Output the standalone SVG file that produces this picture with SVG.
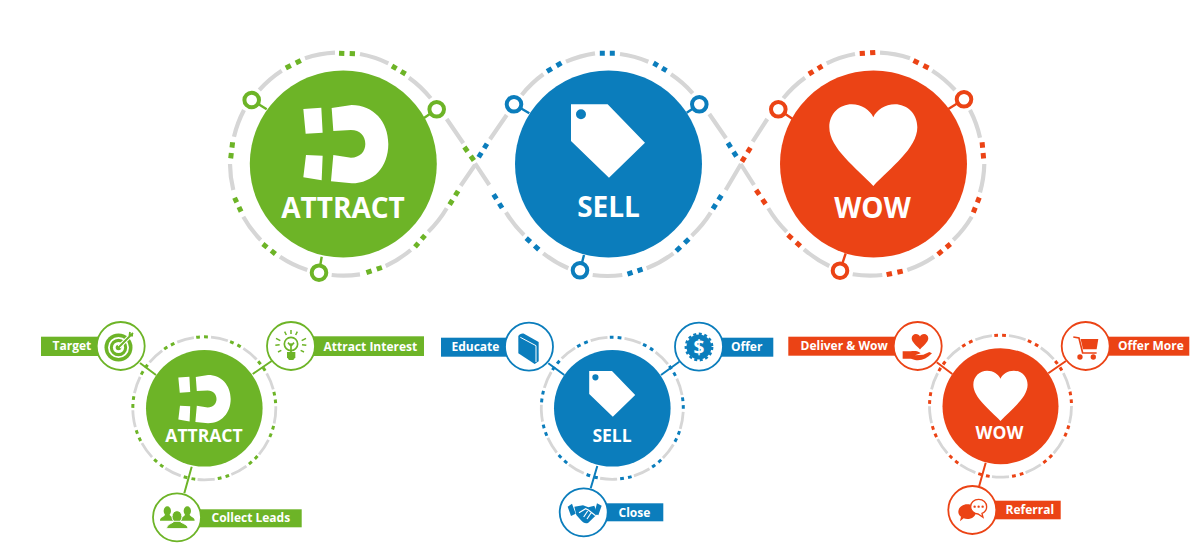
<svg xmlns="http://www.w3.org/2000/svg" width="1200" height="550" viewBox="0 0 1200 550">
<style>
text{font-family:"Open Sans","Noto Sans","Liberation Sans",sans-serif;font-weight:700;fill:#fff}
.big{font-size:28px;text-anchor:middle}
.mid{font-size:17.5px;text-anchor:middle}
.lab{font-size:12px}
.gray{fill:none;stroke:#d6d6d6;stroke-width:4.2}
.dots{fill:none;stroke-width:5;stroke-dasharray:1 1 1}
.g{fill:#6db427}.b{fill:#0b7dbc}.r{fill:#eb4315}
.gs{stroke:#6db427}.bs{stroke:#0b7dbc}.rs{stroke:#eb4315}
.tick{stroke-width:2.4;fill:none}
.tk{stroke-width:2;fill:none}
.port{fill:#fff;stroke-width:4}
.sat{fill:#fff;stroke-width:1.8}
.rg{fill:none;stroke:#d6d6d6;stroke-width:2.8;stroke-dasharray:50 50}
.rc{fill:none;stroke-width:3;stroke-dasharray:11 12 11 66}
.w{fill:#fff}
.ws{stroke:#fff;fill:none}
.ln{fill:none}
</style>
<defs>
<path id="magnet" d="M250 207L304 203L308 278L257 281ZM258 345L308 347L305 421L250 412ZM335 204L395 195C460 195 505 245 505 312C505 380 460 430 395 430L333 424L340 345L393 353C420 353 436 335 436 312C436 288 420 270 393 270L340 273Z"/>
<path id="tag" fill-rule="evenodd" d="M333 193L443 193L555 308L447 413L333 303ZM378 223A15 15 0 1 0 348 223A15 15 0 1 0 378 223Z"/>
<path id="heart" d="M430 438C380 385 298 325 298 262C298 220 330 193 365 193C395 193 420 210 430 232C440 210 465 193 495 193C530 193 562 220 562 262C562 325 480 385 430 438Z"/>
</defs>

<g id="orbits">
<g id="orbit-attract-top">
<path class="gray" d="M360 54A112 112 0 0 1 388.3 63.3M409 77.7A112 112 0 0 1 430.7 98.3M446.7 119L463.3 143.3M475 165L460.7 185.7M446.7 208.3A112 112 0 0 1 428.3 231.7M410.7 250A112 112 0 0 1 385.7 266M360 274.3A112 112 0 0 1 331.7 275M307.3 270A112 112 0 0 1 280 256.7M260.7 240A112 112 0 0 1 243.3 216.7M233.3 190A112 112 0 0 1 230 164M234 136.7A112 112 0 0 1 244 110M259.3 90A112 112 0 0 1 281.7 70.7M305 58.3A112 112 0 0 1 335 52.7"/>
<g class="dots gs">
<path pathLength="3" d="M339 53.2L355 53.8"/><path pathLength="3" d="M392 66L405.6 74"/><path pathLength="3" d="M464.4 147L473.9 160.5"/><path pathLength="3" d="M458.1 191L449.6 204.6"/><path pathLength="3" d="M425 235.4L415 246.9"/><path pathLength="3" d="M381.9 267.5L366.4 272.6"/><path pathLength="3" d="M275.4 254L262.9 244"/><path pathLength="3" d="M241.1 211.6L234.6 197.7"/><path pathLength="3" d="M230.7 158.4L232.6 142.3"/><path pathLength="3" d="M285.8 68L300.8 60.5"/>
</g>
</g>
<g id="orbit-sell-top">
<path class="gray" d="M620 54A112 112 0 0 1 648.3 61.7M671 74.3A112 112 0 0 1 692.7 93.3M709.3 114L726 138.3M490 139.3L506.7 115M521.7 95A112 112 0 0 1 543.3 74.3M566 61.7A112 112 0 0 1 595 53.3M475 163.3L489.3 185M506 212.3A112 112 0 0 0 524 235M543.3 253.3A112 112 0 0 0 568.3 268.3M592.7 275A112 112 0 0 0 622.3 275M646.7 268.3A112 112 0 0 0 673.3 253.3M691.7 235.7A112 112 0 0 0 710.7 212.7M725.7 190L741 164"/>
<g class="dots bs">
<path pathLength="3" d="M599.8 53.3L614.8 53.3"/><path pathLength="3" d="M653.5 63L666.5 70.6"/><path pathLength="3" d="M727.9 142.8L736.4 156.3"/><path pathLength="3" d="M487 143.8L478.6 157.3"/><path pathLength="3" d="M547 71.4L561.4 62.9"/><path pathLength="3" d="M493.6 194.4L502.1 208"/><path pathLength="3" d="M526.2 238.1L538.8 249.6"/><path pathLength="3" d="M627.5 274.1L642.5 269.2"/><path pathLength="3" d="M676.2 251L688.8 239"/><path pathLength="3" d="M712.9 208.9L721.4 195.4"/>
</g>
</g>
<g id="orbit-wow-top">
<path class="gray" d="M740.7 164L754 185M768.3 208.3A112 112 0 0 0 786.7 231.7M804 249.3A112 112 0 0 0 829.3 266M852.7 274.3A112 112 0 0 0 882.3 275M907.3 270A112 112 0 0 0 934 256.7M953.3 240A112 112 0 0 0 971.7 216.7M980 192.3A112 112 0 0 0 984.3 164M980 137.7A112 112 0 0 0 970 110M955 90A112 112 0 0 0 932.3 70.7M910 58.3A112 112 0 0 0 880 52.7M855 54A112 112 0 0 0 826.7 63.3M805 77.7A112 112 0 0 0 783.3 98.3M767.3 119L752.7 141.7"/>
<g class="dots rs">
<path pathLength="3" d="M756.1 190L765.6 204"/><path pathLength="3" d="M787.9 234.8L800.4 246.2"/><path pathLength="3" d="M886.6 274.6L902.7 271.1"/><path pathLength="3" d="M937.9 254.4L950.4 244"/><path pathLength="3" d="M973.3 212.5L979.3 197.5"/><path pathLength="3" d="M983.6 158.4L982.1 142.3"/><path pathLength="3" d="M928.5 68L913.5 60.5"/><path pathLength="3" d="M875.3 52.5L859.7 53.5"/><path pathLength="3" d="M822.3 66L808.8 74"/><path pathLength="3" d="M750.4 147.7L741.9 161.6"/>
</g>
</g>
<g id="orbit-attract-small">
<circle class="rg" cx="204.3" cy="408.3" r="71.5" pathLength="1300" stroke-dashoffset="-43" transform="rotate(-96.5 204.3 408.3)"/>
<circle class="rc gs" cx="204.3" cy="408.3" r="71.5" pathLength="1300" transform="rotate(-96.5 204.3 408.3)"/>
</g>
<g id="orbit-sell-small">
<circle class="rg" cx="612.3" cy="408.3" r="71" pathLength="1300" stroke-dashoffset="-43" transform="rotate(-92 612.3 408.3)"/>
<circle class="rc bs" cx="612.3" cy="408.3" r="71" pathLength="1300" transform="rotate(-92 612.3 408.3)"/>
</g>
<g id="orbit-wow-small">
<circle class="rg" cx="1000.5" cy="406.2" r="71" pathLength="1300" stroke-dashoffset="-43" transform="rotate(-95 1000.5 406.2)"/>
<circle class="rc rs" cx="1000.5" cy="406.2" r="71" pathLength="1300" transform="rotate(-95 1000.5 406.2)"/>
</g>
</g>

<g id="connectors">
<path class="tick gs" d="M266.7 109.3L251.7 100M424 118L436.7 109.3M321.7 256.7L319 272.7"/>
<path class="tick bs" d="M529.3 113.3L514 104.3M686.7 112.7L699.3 104.3M584 255L580 270.3"/>
<path class="tick rs" d="M792.7 119L778.3 109.3M948.3 109L964 99.3M845.7 253.3L840 270.7"/>
<path class="tk gs" d="M156 375L140 363M252.7 374L271.7 361M191.7 466.7L184.3 493.3"/>
<path class="tk bs" d="M564.3 375L548.3 363.3M661 375L679.3 361.7M597.3 466L590.7 488.3"/>
<path class="tk rs" d="M952.3 374L936.7 362.3M1048.3 373.3L1066 361M985.7 462.7L979 486.7"/>
</g>

<g id="attract-main">
<circle class="g" cx="343.3" cy="164" r="93.5"/>
<use href="#magnet" class="w" transform="translate(220 40) scale(.3333)"/>
<text class="big" x="343" y="217.5">ATTRACT</text>
</g>
<g id="sell-main">
<circle class="b" cx="608.5" cy="164" r="93.5"/>
<use href="#tag" class="w" transform="translate(460 40) scale(.3333)"/>
<text class="big" x="608.5" y="217">SELL</text>
</g>
<g id="wow-main">
<circle class="r" cx="873.5" cy="164" r="93.5"/>
<use href="#heart" class="w" transform="translate(730 40) scale(.3333)"/>
<text class="big" x="872.5" y="217.5">WOW</text>
</g>

<g id="port-a1"><circle class="port gs" cx="251.7" cy="100" r="7.3"/></g>
<g id="port-a2"><circle class="port gs" cx="436.7" cy="109.3" r="7.3"/></g>
<g id="port-a3"><circle class="port gs" cx="319" cy="272.7" r="7.3"/></g>
<g id="port-s1"><circle class="port bs" cx="514" cy="104.3" r="7.3"/></g>
<g id="port-s2"><circle class="port bs" cx="699.3" cy="104.3" r="7.3"/></g>
<g id="port-s3"><circle class="port bs" cx="580" cy="270.3" r="7.3"/></g>
<g id="port-w1"><circle class="port rs" cx="778.3" cy="109.3" r="7.3"/></g>
<g id="port-w2"><circle class="port rs" cx="964" cy="99.3" r="7.3"/></g>
<g id="port-w3"><circle class="port rs" cx="840" cy="270.7" r="7.3"/></g>

<g id="attract-hub">
<circle class="g" cx="204.3" cy="408.3" r="58.3"/>
<use href="#magnet" class="w" transform="translate(127 335) scale(.2053)"/>
<text class="mid" x="204" y="442">ATTRACT</text>
</g>
<g id="sell-hub">
<circle class="b" cx="612.3" cy="408.3" r="58.3"/>
<use href="#tag" class="w" transform="translate(520.2 331.1) scale(.2072)"/>
<text class="mid" x="612" y="441.7">SELL</text>
</g>
<g id="wow-hub">
<circle class="r" cx="1000.5" cy="406.2" r="58"/>
<use href="#heart" class="w" transform="translate(912.1 331) scale(.2055)"/>
<text class="mid" x="999.5" y="439.3">WOW</text>
</g>

<g id="target">
<rect class="g" x="41" y="336.7" width="70" height="19.3"/>
<circle class="sat gs" cx="120.7" cy="346" r="24"/>
<circle class="g" cx="118.5" cy="347.5" r="14"/>
<circle class="ws" stroke-width="1.8" cx="118.5" cy="347.5" r="9.6"/>
<circle class="w" cx="118.5" cy="347.5" r="5.6"/>
<circle class="g" cx="118.5" cy="347.5" r="2.8"/>
<path class="ws" stroke-width="4" d="M119 347L133 333"/>
<path class="gs ln" stroke-width="1.8" d="M118.5 347.5L133 333M130 332L129.5 335.5L133 335.5"/>
<text class="lab" x="52.5" y="350">Target</text>
</g>
<g id="attract-interest">
<rect class="g" x="291" y="336.3" width="133" height="19.7"/>
<circle class="sat gs" cx="291" cy="346" r="24"/>
<g transform="translate(262 320) scale(.3333)">
<circle class="gs ln" stroke-width="5" cx="87" cy="72" r="20"/>
<path class="g" d="M75 96H100V112L94 120H81L75 112Z"/>
<path class="gs ln" stroke-width="5" d="M87 96V70M78 68L87 78L96 68"/>
<path class="gs ln" stroke-width="4.5" d="M87 30V42M68 35L73 45M106 35L101 45M42 55L55 62M132 55L119 62M40 76L53 74M133 76L120 74M48 96L58 91M126 96L116 91"/>
</g>
<text class="lab" x="323.5" y="350.5">Attract Interest</text>
</g>
<g id="collect-leads">
<rect class="g" x="177" y="509.3" width="124.7" height="18"/>
<circle class="sat gs" cx="177" cy="517.3" r="24"/>
<g class="g" transform="translate(30 310) scale(.3333)">
<ellipse cx="412" cy="603" rx="11" ry="14"/>
<ellipse cx="472" cy="603" rx="11" ry="14"/>
<path d="M390 632C390 622 400 622 405 615H419C424 622 434 622 434 632Z"/>
<path d="M450 632C450 622 460 622 465 615H479C484 622 494 622 494 632Z"/>
<ellipse cx="441" cy="620" rx="15" ry="18" stroke="#fff" stroke-width="3"/>
<path stroke="#fff" stroke-width="3" d="M410 656C410 642 425 642 432 634H450C457 642 474 642 474 656Z"/>
</g>
<text class="lab" x="211.5" y="522">Collect Leads</text>
</g>
<g id="educate">
<rect class="b" x="441" y="337.7" width="80" height="19"/>
<circle class="sat bs" cx="529" cy="346.7" r="24"/>
<g transform="translate(500 320) scale(.3333)">
<path class="b" d="M55 48C58 42 66 39 72 41L116 66V124L104 132L55 100Z"/>
<path class="ws" stroke-width="3" d="M61 52L108 77V126"/>
</g>
<text class="lab" x="451.5" y="351">Educate</text>
</g>
<g id="offer">
<rect class="b" x="699" y="337.7" width="74.3" height="19"/>
<circle class="sat bs" cx="699" cy="346.7" r="24"/>
<circle class="b" cx="699" cy="347" r="12.5"/>
<circle class="bs ln" stroke-width="2.4" stroke-dasharray="3 2.6" cx="699" cy="347" r="13.2"/>
<text x="699" y="353.7" font-size="19" text-anchor="middle">$</text>
<text class="lab" x="731" y="351">Offer</text>
</g>
<g id="close">
<rect class="b" x="583.7" y="503.3" width="79.6" height="18"/>
<circle class="sat bs" cx="583.7" cy="512.3" r="24"/>
<g transform="translate(555 485) scale(.3333)">
<path class="b" d="M38 65L51 56L62 86L48 93ZM126 55L140 62L130 91L118 85Z"/>
<path class="b" d="M58 65L84 61L100 67L118 62L127 87L100 113C92 118 85 113 78 106L64 90Z"/>
<path class="ws" stroke-width="3.5" d="M72 83L92 71L100 75L122 92M108 84L96 102M98 78L86 96"/>
</g>
<text class="lab" x="618.5" y="516.7">Close</text>
</g>
<g id="deliver-wow">
<rect class="r" x="788.3" y="336.7" width="130" height="19"/>
<circle class="sat rs" cx="917.7" cy="346" r="24"/>
<use href="#heart" class="r" transform="translate(892.9 321.8) scale(.063)"/>
<path class="r" transform="translate(780 310) scale(.3333)" d="M368 124H392C402 122 415 122 422 130L405 136L430 134L448 126L456 130C440 146 425 153 405 150L393 146H368Z"/>
<text class="lab" x="800.5" y="350.3">Deliver &amp; Wow</text>
</g>
<g id="offer-more">
<rect class="r" x="1085.7" y="336.7" width="103.6" height="19"/>
<circle class="sat rs" cx="1085.7" cy="346" r="24"/>
<g transform="translate(780 310) scale(.3333)">
<path class="r" d="M902 87H955L950 118H909Z"/>
<path class="rs ln" stroke-width="5" d="M880 81L897 84L908 129H950"/>
<circle class="r" cx="900" cy="141" r="8"/>
<circle class="r" cx="940" cy="141" r="8"/>
</g>
<text class="lab" x="1118" y="350.3">Offer More</text>
</g>
<g id="referral">
<rect class="r" x="972.3" y="500.7" width="88.4" height="18.6"/>
<circle class="sat rs" cx="972.3" cy="510" r="24"/>
<g transform="translate(780 310) scale(.3333)">
<path class="r" d="M562 583C578 583 588 594 588 605C588 618 576 627 562 627C558 627 554 626 551 625L540 634L543 620C538 616 535 611 535 605C535 593 547 583 562 583Z"/>
<path fill="#fff" class="rs" stroke-width="4" d="M596 568C610 568 620 578 620 590C620 600 614 607 606 610L609 622L594 612C582 611 572 602 572 590C572 578 582 568 596 568Z"/>
<circle class="r" cx="584" cy="590" r="3.5"/>
<circle class="r" cx="596" cy="590" r="3.5"/>
<circle class="r" cx="608" cy="590" r="3.5"/>
</g>
<text class="lab" x="1005.5" y="514">Referral</text>
</g>
</svg>
